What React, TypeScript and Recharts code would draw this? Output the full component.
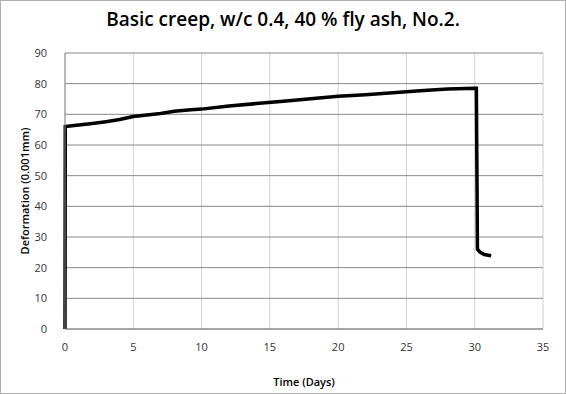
import { LineChart, Line, XAxis, YAxis, CartesianGrid, Label } from 'recharts';

const days = [0, 0.02, 1, 2, 3, 4, 5, 6, 7, 8, 9, 10, 12, 14, 16, 18, 20, 22, 24, 26, 28, 30, 30.12, 30.2, 30.4, 30.7, 31.2];
const deformation = [0, 66, 66.5, 67, 67.6, 68.3, 69.3, 69.8, 70.3, 71, 71.4, 71.7, 72.7, 73.5, 74.3, 75.1, 75.9, 76.4, 77, 77.7, 78.3, 78.5, 78.5, 26, 25, 24.3, 23.9];
const xTicks = [0, 5, 10, 15, 20, 25, 30, 35];
const yTicks = [0, 10, 20, 30, 40, 50, 60, 70, 80, 90];

const data = days.map((d, i) => ({ day: d, value: deformation[i] }));

const font = 'Open Sans, Lato, sans-serif';

export default function App() {
  return (
    <div
      style={{
        position: 'absolute',
        left: 0,
        top: 0,
        width: 566,
        height: 394,
        boxSizing: 'border-box',
        border: '1px solid #b0b0b0',
        background: '#fff',
        fontFamily: font,
      }}
    >
      <div
        style={{
          position: 'absolute',
          top: 5,
          width: '100%',
          textAlign: 'center',
          fontSize: 19,
          fontWeight: 600,
          color: '#000',
        }}
      >
        Basic creep, w/c 0.4, 40 % fly ash, No.2.
      </div>
      <LineChart
        width={564}
        height={392}
        data={data}
        margin={{ top: 52, right: 22, bottom: 34, left: 0 }}
      >
        <CartesianGrid horizontal={false} stroke="#d0d0d0" strokeWidth={1} />
        <CartesianGrid vertical={false} stroke="#888" strokeWidth={1} />
        <XAxis
          dataKey="day"
          type="number"
          domain={[0, 35]}
          ticks={xTicks}
          tickLine={false}
          stroke="#888"
          height={30}
          tick={{ fill: '#333', fontSize: 11, fontFamily: font }}
          tickMargin={8}
        >
          <Label
            value="Time (Days)"
            position="bottom"
            offset={19}
            style={{ fill: '#000', fontSize: 11, fontWeight: 600, fontFamily: font }}
          />
        </XAxis>
        <YAxis
          type="number"
          domain={[0, 90]}
          ticks={yTicks}
          width={64}
          tickLine={false}
          stroke="#888"
          tick={{ fill: '#333', fontSize: 11, fontFamily: font }}
          tickMargin={12}
        >
          <Label
            value="Deformation (0.001mm)"
            angle={-90}
            position="insideLeft"
            offset={24}
            style={{ textAnchor: 'middle', fill: '#000', fontSize: 11, fontWeight: 600, fontFamily: font }}
          />
        </YAxis>
        <Line
          type="linear"
          dataKey="value"
          stroke="#000"
          strokeWidth={3.5}
          dot={false}
          isAnimationActive={false}
        />
      </LineChart>
    </div>
  );
}
